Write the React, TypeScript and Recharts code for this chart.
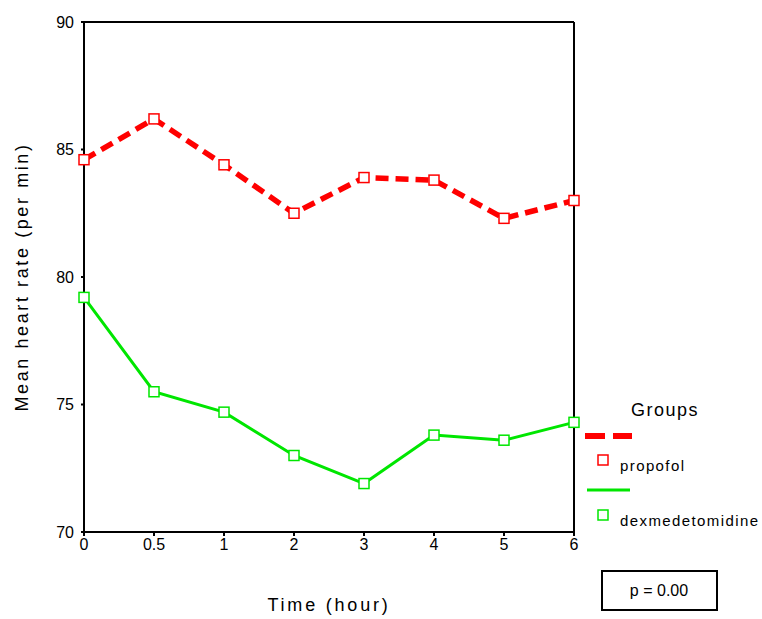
import { Line, LineChart, ReferenceLine, XAxis, YAxis } from "recharts";

const times = ["0", "0.5", "1", "2", "3", "4", "5", "6"];
const propofol = [84.6, 86.2, 84.4, 82.5, 83.9, 83.8, 82.3, 83.0];
const dexmedetomidine = [79.2, 75.5, 74.7, 73.0, 71.9, 73.8, 73.6, 74.3];
const yTicks = [70, 75, 80, 85, 90];

const data = times.map((time, i) => ({
  time,
  propofol: propofol[i],
  dexmedetomidine: dexmedetomidine[i],
}));

const FONT = "'Liberation Sans', Arial, sans-serif";
const RED = "#ff0000";
const GREEN = "#00e600";

const squareDot = (color: string) => (props: any) => {
  const { cx, cy, index } = props;
  return (
    <rect
      key={`d-${color}-${index}`}
      x={cx - 5}
      y={cy - 5}
      width={10}
      height={10}
      fill="#fff"
      stroke={color}
      strokeWidth={1.5}
    />
  );
};

function Legend() {
  return (
    <svg
      width={762}
      height={619}
      style={{ position: "absolute", left: 0, top: 0, pointerEvents: "none" }}
    >
      <g fontFamily={FONT} fill="#000">
        <text x={631} y={416} fontSize={18} letterSpacing={1.5}>
          Groups
        </text>
        <line x1={585} y1={436} x2={632} y2={436} stroke={RED} strokeWidth={6} strokeDasharray="20 8" />
        <rect x={598} y={455} width={10} height={10} fill="#fff" stroke={RED} strokeWidth={1.5} />
        <text x={620} y={471} fontSize={15} letterSpacing={1.4}>
          propofol
        </text>
        <line x1={587} y1={490} x2={630} y2={490} stroke={GREEN} strokeWidth={3} />
        <rect x={598} y={510} width={10} height={10} fill="#fff" stroke={GREEN} strokeWidth={1.5} />
        <text x={620} y={526} fontSize={15} letterSpacing={1.4}>
          dexmedetomidine
        </text>
        <rect x={602} y={571} width={115} height={39} fill="#fff" stroke="#000" strokeWidth={2} />
        <text x={659} y={596} fontSize={16} textAnchor="middle">
          p = 0.00
        </text>
      </g>
    </svg>
  );
}

export default function App() {
  return (
    <div style={{ position: "absolute", left: 0, top: 0, width: 762, height: 619, background: "#fff" }}>
      <LineChart
        width={762}
        height={619}
        data={data}
        margin={{ top: 22, right: 188, bottom: 57, left: 0 }}
      >
        <XAxis
          dataKey="time"
          type="category"
          interval={0}
          height={30}
          axisLine={{ stroke: "#000", strokeWidth: 2 }}
          tickLine={{ stroke: "#000", strokeWidth: 2 }}
          tickSize={4}
          tickMargin={3}
          tick={{ fill: "#000", fontSize: 16, fontFamily: FONT }}
          label={{
            value: "Time (hour)",
            position: "bottom",
            offset: 36,
            fill: "#000",
            fontSize: 18,
            fontFamily: FONT,
            letterSpacing: 2.8,
          }}
        />
        <YAxis
          type="number"
          domain={[70, 90]}
          ticks={yTicks}
          width={84}
          axisLine={{ stroke: "#000", strokeWidth: 2 }}
          tickLine={{ stroke: "#000", strokeWidth: 2 }}
          tickSize={3}
          tickMargin={7}
          tick={{ fill: "#000", fontSize: 16, fontFamily: FONT }}
          label={{
            content: (props: any) => {
              const vb = props.viewBox;
              const x = 22;
              const y = vb.y + vb.height / 2;
              return (
                <text
                  x={x}
                  y={y}
                  transform={`rotate(-90 ${x} ${y})`}
                  textAnchor="middle"
                  dominantBaseline="central"
                  fontSize={18}
                  fontFamily={FONT}
                  letterSpacing={2.6}
                  fill="#000"
                >
                  Mean heart rate (per min)
                </text>
              );
            },
          }}
        />
        <ReferenceLine y={90} stroke="#000" strokeWidth={2} />
        <ReferenceLine x="6" stroke="#000" strokeWidth={2} />
        <Line
          type="linear"
          dataKey="propofol"
          stroke={RED}
          strokeWidth={5.5}
          strokeDasharray="13 7"
          dot={squareDot(RED)}
          activeDot={false}
          isAnimationActive={false}
        />
        <Line
          type="linear"
          dataKey="dexmedetomidine"
          stroke={GREEN}
          strokeWidth={3}
          dot={squareDot(GREEN)}
          activeDot={false}
          isAnimationActive={false}
        />
      </LineChart>
      <Legend />
    </div>
  );
}
